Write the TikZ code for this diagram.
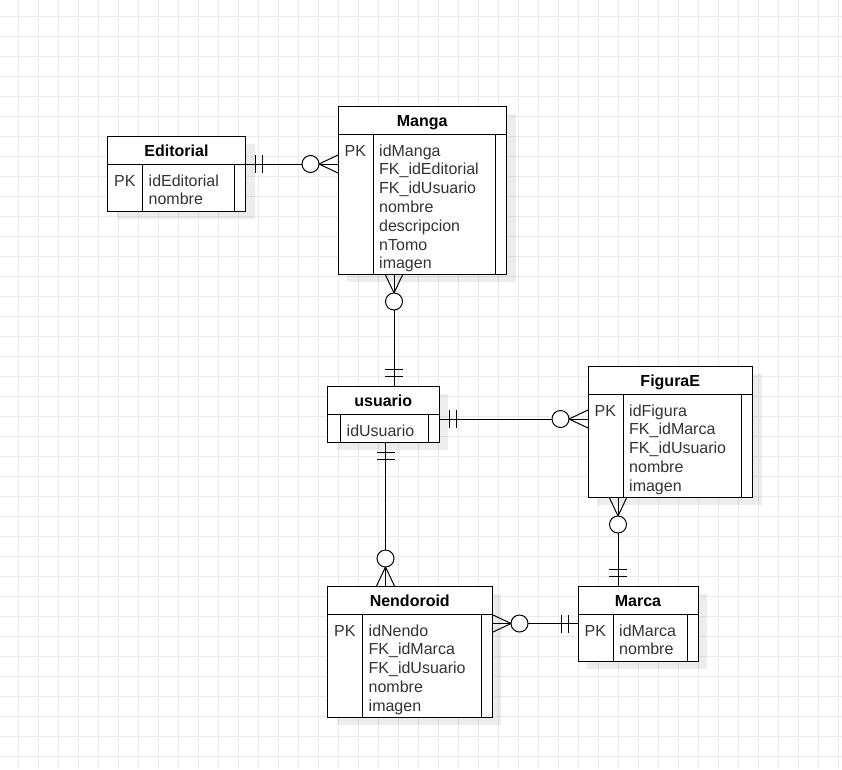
\documentclass[tikz,border=0pt]{standalone}
\usepackage{fontspec}
\setmainfont{Liberation Sans}
\usetikzlibrary{calc,shadows}

\tikzset{
  tbl/.style={draw, line width=1pt, fill=white, anchor=north west, inner sep=0pt, outer sep=0pt,
    drop shadow={shadow xshift=9pt, shadow yshift=-8pt, fill=black, opacity=0.07}},
  hdr/.style={draw, line width=1pt, anchor=north, inner sep=0pt, outer sep=0pt, minimum height=28,
    text height=12pt, text depth=0pt, font=\fontsize{16}{19}\selectfont\bfseries},
  field/.style={anchor=base west, inner sep=0pt, text=black!80},
  rule/.style={line width=1pt},
  link/.style={line width=1pt},
  gridline/.style={black!8, line width=0.8pt},
  onemark/.pic={\draw[link] (10,-9) -- (10,9) (17,-9) -- (17,9);},
  manymark/.pic={\draw[link] (0,-9) -- (19,0) -- (0,9); \draw[link, fill=white] (27.5,0) circle (8.5pt);}
}

\begin{document}
\begin{tikzpicture}[x=1pt, y=-1pt, font=\fontsize{16}{19}\selectfont]
\fill[white] (0,0) rectangle (842,769);
\useasboundingbox (0,0) rectangle (842,769);
\foreach \x in {18,38,...,838} \draw[gridline] (\x,0) -- (\x,769);
\foreach \y in {16,36,...,756} \draw[gridline] (0,\y) -- (842,\y);

% Editorial
\node[tbl, minimum width=138, minimum height=75] (editorial) at (107.5,136) {};
\node[hdr, minimum width=138] (editorial-t) at (editorial.north) {Editorial};
\draw[rule] ($(editorial-t.south west)+(35,0)$) -- ($(editorial.south west)+(35,0)$);
\draw[rule] ($(editorial-t.south east)+(-11,0)$) -- ($(editorial.south east)+(-11,0)$);
\node[field] (editorial-pk) at ($(editorial.north west)+(6.5,50)$) {PK};
\foreach \f [count=\i] in {idEditorial,nombre}
  \node[field] (editorial-\i) at ($(editorial.north west)+(41,31.2+18.8*\i)$) {\f};

% Manga
\node[tbl, minimum width=168.5, minimum height=168] (manga) at (338,106) {};
\node[hdr, minimum width=168.5] (manga-t) at (manga.north) {Manga};
\draw[rule] ($(manga-t.south west)+(35,0)$) -- ($(manga.south west)+(35,0)$);
\draw[rule] ($(manga-t.south east)+(-11,0)$) -- ($(manga.south east)+(-11,0)$);
\node[field] (manga-pk) at ($(manga.north west)+(6.5,50)$) {PK};
\foreach \f [count=\i] in {idManga,FK\_idEditorial,FK\_idUsuario,nombre,descripcion,nTomo,imagen}
  \node[field] (manga-\i) at ($(manga.north west)+(41,31.2+18.8*\i)$) {\f};

% usuario
\node[tbl, minimum width=111.5, minimum height=56] (usuario) at (327.5,386) {};
\node[hdr, minimum width=111.5] (usuario-t) at (usuario.north) {usuario};
\draw[rule] ($(usuario-t.south west)+(13,0)$) -- ($(usuario.south west)+(13,0)$);
\draw[rule] ($(usuario-t.south east)+(-11,0)$) -- ($(usuario.south east)+(-11,0)$);
\node[field] (usuario-1) at ($(usuario.north west)+(19,50)$) {idUsuario};

% FiguraE
\node[tbl, minimum width=164.5, minimum height=131] (figurae) at (588,366) {};
\node[hdr, minimum width=164.5] (figurae-t) at (figurae.north) {FiguraE};
\draw[rule] ($(figurae-t.south west)+(35,0)$) -- ($(figurae.south west)+(35,0)$);
\draw[rule] ($(figurae-t.south east)+(-11,0)$) -- ($(figurae.south east)+(-11,0)$);
\node[field] (figurae-pk) at ($(figurae.north west)+(6.5,50)$) {PK};
\foreach \f [count=\i] in {idFigura,FK\_idMarca,FK\_idUsuario,nombre,imagen}
  \node[field] (figurae-\i) at ($(figurae.north west)+(41,31.2+18.8*\i)$) {\f};

% Nendoroid
\node[tbl, minimum width=164.5, minimum height=131] (nendoroid) at (327.5,586) {};
\node[hdr, minimum width=164.5] (nendoroid-t) at (nendoroid.north) {Nendoroid};
\draw[rule] ($(nendoroid-t.south west)+(35,0)$) -- ($(nendoroid.south west)+(35,0)$);
\draw[rule] ($(nendoroid-t.south east)+(-11,0)$) -- ($(nendoroid.south east)+(-11,0)$);
\node[field] (nendoroid-pk) at ($(nendoroid.north west)+(6.5,50)$) {PK};
\foreach \f [count=\i] in {idNendo,FK\_idMarca,FK\_idUsuario,nombre,imagen}
  \node[field] (nendoroid-\i) at ($(nendoroid.north west)+(41,31.2+18.8*\i)$) {\f};

% Marca
\node[tbl, minimum width=120, minimum height=75] (marca) at (578,586) {};
\node[hdr, minimum width=120] (marca-t) at (marca.north) {Marca};
\draw[rule] ($(marca-t.south west)+(35,0)$) -- ($(marca.south west)+(35,0)$);
\draw[rule] ($(marca-t.south east)+(-11,0)$) -- ($(marca.south east)+(-11,0)$);
\node[field] (marca-pk) at ($(marca.north west)+(6.5,50)$) {PK};
\foreach \f [count=\i] in {idMarca,nombre}
  \node[field] (marca-\i) at ($(marca.north west)+(41,31.2+18.8*\i)$) {\f};

% relaciones
\draw[link] (editorial-t.south east) -- (manga.west |- editorial-t.south east);
\pic at (editorial-t.south east) {onemark};
\pic[rotate=180] at (manga.west |- editorial-t.south east) {manymark};

\coordinate (mu) at ($(manga.south west)+(56,0)$);
\draw[link] (mu) -- (mu |- usuario-t.north);
\pic[rotate=-90] at (mu) {manymark};
\pic[rotate=90] at (mu |- usuario-t.north) {onemark};

\coordinate (uf) at ($(usuario-t.south east)+(0,5)$);
\draw[link] (uf) -- (uf -| figurae.west);
\pic at (uf) {onemark};
\pic[rotate=180] at (uf -| figurae.west) {manymark};

\coordinate (un) at ($(usuario.south west)+(58,0)$);
\draw[link] (un) -- (un |- nendoroid-t.north);
\pic[rotate=-90] at (un) {onemark};
\pic[rotate=90] at (un |- nendoroid-t.north) {manymark};

\coordinate (fm) at ($(figurae.south west)+(30,0)$);
\draw[link] (fm) -- (fm |- marca-t.north);
\pic[rotate=-90] at (fm) {manymark};
\pic[rotate=90] at (fm |- marca-t.north) {onemark};

\draw[link] (nendoroid.east |- marca.west) -- (marca.west);
\pic at (nendoroid.east |- marca.west) {manymark};
\pic[rotate=180] at (marca.west) {onemark};
\end{tikzpicture}
\end{document}
